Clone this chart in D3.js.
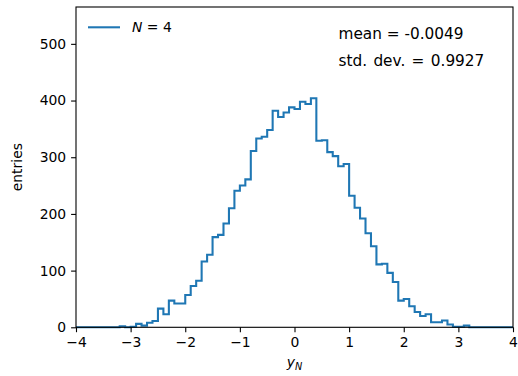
<!DOCTYPE html>
<html>
<head>
<meta charset="utf-8">
<script src="https://cdn.jsdelivr.net/npm/d3@7"></script>
<style>
  body { margin: 0; background: #fff; }
  svg { display: block; font-family: "DejaVu Sans", sans-serif; }
</style>
</head>
<body>
<svg width="518" height="376"></svg>
<script>
 // histogram of y_N, 80 bins of width 0.1 between -4 and 4
 var binLow = -4, binHigh = 4, binCount = 80;
 var counts = [
   0, 0, 0, 0, 0, 0, 0, 0,                       // -4.0 .. -3.3
   2, 0, 1, 6, 3, 8, 11, 33, 23, 47,             // -3.2 .. -2.3
   42, 42, 57, 73, 82, 116, 128, 159, 163, 183,  // -2.2 .. -1.3
   210, 241, 250, 261, 311, 333, 336, 348, 382, 371, // -1.2 .. -0.3
   379, 388, 385, 398, 394, 404, 329, 330, 309, 302, // -0.2 .. 0.7
   284, 288, 232, 211, 192, 166, 143, 111, 112, 96,  // 0.8 .. 1.7
   80, 47, 50, 37, 27, 20, 23, 9, 9, 12,         // 1.8 .. 2.7
   5, 1, 1, 3,                                   // 2.8 .. 3.1
   0, 0, 0, 0, 0, 0, 0, 0                        // 3.2 .. 3.9
 ];
 var xTicks = [-4, -3, -2, -1, 0, 1, 2, 3, 4];
 var yTicks = [0, 100, 200, 300, 400, 500];
 var legendLabel = "4";
 var statLines = ["mean = -0.0049", "std. dev. = 0.9927"];

 var svg = d3.select("svg");
 var mLeft = 76, mRight = 513, mTop = 7, mBottom = 327.3;
 var fs = 13.9;

 var x = d3.scaleLinear().domain([binLow, binHigh]).range([mLeft, mRight]);
 var y = d3.scaleLinear().domain([0, 565]).range([mBottom, mTop]);

 var step = (binHigh - binLow) / binCount;
 var pts = [[binLow, 0]];
 counts.forEach(function(c, i) {
   pts.push([binLow + i * step, c]);
   pts.push([binLow + (i + 1) * step, c]);
 });
 pts.push([binHigh, 0]);

 var line = d3.line()
   .x(function(d) { return x(d[0]); })
   .y(function(d) { return y(d[1]); });

 svg.append("path")
   .datum(pts)
   .attr("d", line)
   .attr("fill", "none")
   .attr("stroke", "#1f77b4")
   .attr("stroke-width", 2.08)
   .attr("stroke-linejoin", "miter");

 // axes
 var xAxis = svg.append("g")
   .attr("transform", "translate(0," + mBottom + ")")
   .call(d3.axisBottom(x).tickValues(xTicks).tickSize(4.9).tickPadding(4.9)
     .tickFormat(function(d) { return d < 0 ? "\u2212" + Math.abs(d) : d; }));
 var yAxis = svg.append("g")
   .attr("transform", "translate(" + mLeft + ",0)")
   .call(d3.axisLeft(y).tickValues(yTicks).tickSize(4.9).tickPadding(4.9));

 [xAxis, yAxis].forEach(function(g) {
   g.select(".domain").remove();
   g.selectAll(".tick line").attr("stroke", "#000").attr("stroke-width", 1.1);
   g.selectAll(".tick text").attr("fill", "#000")
     .style("font-size", fs + "px").style("font-family", "DejaVu Sans");
 });

 svg.append("rect")
   .attr("x", mLeft).attr("y", mTop)
   .attr("width", mRight - mLeft).attr("height", mBottom - mTop)
   .attr("fill", "none").attr("stroke", "#000").attr("stroke-width", 1.1);

 // axis labels
 var xl = svg.append("text")
   .attr("x", x(0)).attr("y", 367)
   .attr("text-anchor", "middle")
   .style("font-size", fs + "px");
 xl.append("tspan").style("font-style", "italic").text("y");
 xl.append("tspan").attr("dy", 2.5).style("font-style", "italic")
   .style("font-size", (fs * 0.7) + "px").text("N");

 svg.append("text")
   .attr("transform", "translate(22," + ((mTop + mBottom) / 2) + ") rotate(-90)")
   .attr("text-anchor", "middle")
   .style("font-size", fs + "px")
   .text("entries");

 // legend
 svg.append("line")
   .attr("x1", 88).attr("x2", 120).attr("y1", 27.3).attr("y2", 27.3)
   .attr("stroke", "#1f77b4").attr("stroke-width", 2.08);
 var lt = svg.append("text")
   .attr("x", 132).attr("y", 32.3)
   .style("font-size", fs + "px");
 lt.append("tspan").style("font-style", "italic").text("N");
 lt.append("tspan").text(" = " + legendLabel);

 // stats text
 svg.selectAll(".stat")
   .data(statLines)
   .enter()
   .append("text")
   .attr("class", "stat")
   .attr("x", 338.5)
   .attr("y", function(d, i) { return 38.8 + i * 27; })
   .style("font-size", "15.3px")
   .style("word-spacing", function(d, i) { return i ? "1.5px" : "0px"; })
   .text(function(d) { return d; });
</script>
</body>
</html>
